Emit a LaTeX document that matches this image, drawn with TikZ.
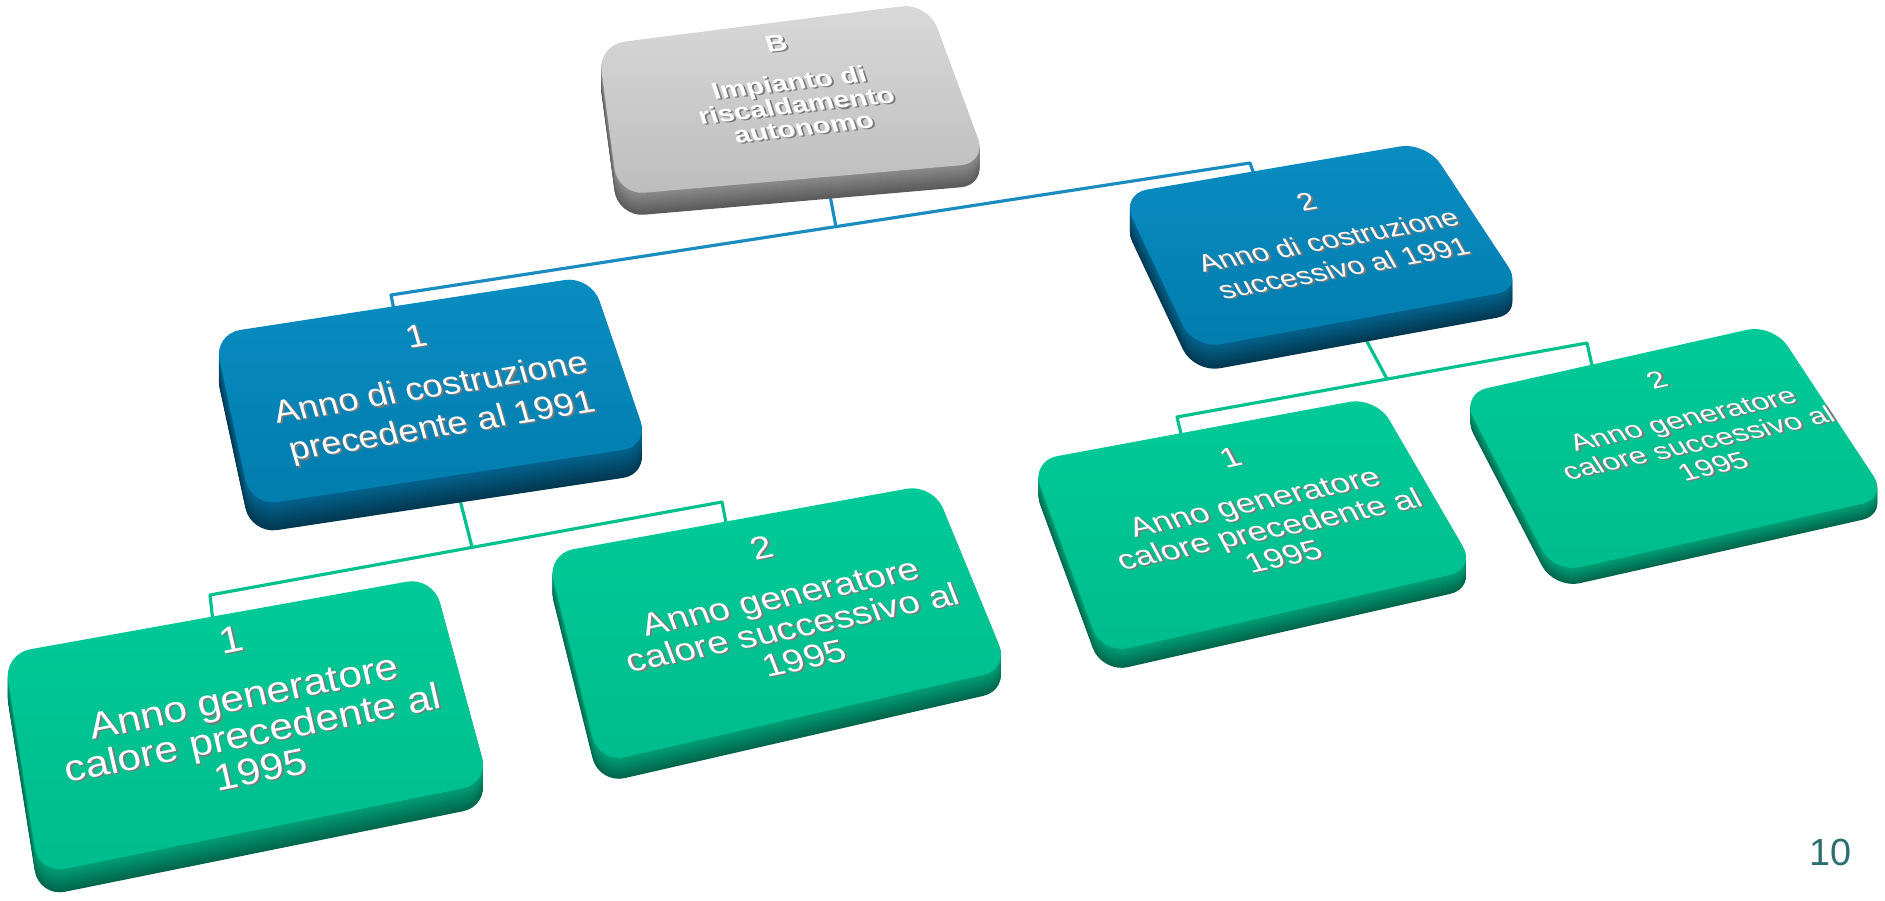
\documentclass[tikz,border=0pt]{standalone}
\usepackage{fontspec}
\setmainfont{Liberation Sans}

\definecolor{grigiosu}{HTML}{D9D9D9}
\definecolor{grigiogiu}{HTML}{BDBDBD}
\definecolor{grigiolatoA}{HTML}{8C8C8C}
\definecolor{grigiolatoB}{HTML}{5A5A5A}
\definecolor{blusu}{HTML}{0A8DC2}
\definecolor{blugiu}{HTML}{017CAD}
\definecolor{blulatoA}{HTML}{03648F}
\definecolor{blulatoB}{HTML}{023850}
\definecolor{verdesu}{HTML}{00CA98}
\definecolor{verdegiu}{HTML}{00BC8C}
\definecolor{verdelatoA}{HTML}{00A077}
\definecolor{verdelatoB}{HTML}{00664B}
\definecolor{lineablu}{HTML}{1A8CC0}
\definecolor{lineaverde}{HTML}{00C08E}
\definecolor{ombra}{HTML}{7A7A7A}
\definecolor{numero}{HTML}{2E6E71}

\begin{document}
\begin{tikzpicture}[x=0.02cm, y=0.02cm,
    lastra/.style={rounded corners=15pt},
    collblu/.style={draw=lineablu, line width=1.8pt, line join=round},
    collverde/.style={draw=lineaverde, line width=1.8pt, line join=round},
    testo/.style={align=center, inner sep=0pt, transform shape}]

    \useasboundingbox (0,0) rectangle (1885,900);

    % --- Punti di aggancio dei collegamenti ---
    \coordinate (r-out) at (828,715);
    \coordinate (r-bar) at (836,673);
    \coordinate (b1-bar) at (391,605);
    \coordinate (b1-in) at (395,585);
    \coordinate (b2-bar) at (1250,737);
    \coordinate (b2-in) at (1256,720);

    \coordinate (b1-out) at (460,400);
    \coordinate (b1-giu) at (472,353);
    \coordinate (g1-bar) at (210,305);
    \coordinate (g1-in) at (213,278);
    \coordinate (g2-bar) at (722,398);
    \coordinate (g2-in) at (727,372);

    \coordinate (b2-out) at (1365,562);
    \coordinate (b2-giu) at (1387,521);
    \coordinate (g3-bar) at (1177,483);
    \coordinate (g3-in) at (1182,462);
    \coordinate (g4-bar) at (1587,557);
    \coordinate (g4-in) at (1593,530);

    % --- Collegamenti (sotto le lastre) ---
    \draw[collblu] (r-out) -- (r-bar);
    \draw[collblu] (b1-in) -- (b1-bar) -- (b2-bar) -- (b2-in);
    \draw[collverde] (b1-out) -- (b1-giu);
    \draw[collverde] (g1-in) -- (g1-bar) -- (g2-bar) -- (g2-in);
    \draw[collverde] (b2-out) -- (b2-giu);
    \draw[collverde] (g3-in) -- (g3-bar) -- (g4-bar) -- (g4-in);

    % --- Lastra radice B (grigia) ---
    \def\faccia{(598,855) -- (928,897) -- (987,737) -- (618,705) -- cycle}
    \foreach \k in {22,...,1} {
        \pgfmathtruncatemacro\mix{100*(22-\k)/22}
        \fill[lastra, grigiolatoA!\mix!grigiolatoB, shift={(0,-\k)}] \faccia;
    }
    \shade[lastra, top color=grigiosu, bottom color=grigiogiu] \faccia;
    \begin{scope}[cm={0.9936,0.1132,-0.253,0.780,(790,814)}]
        % ombra grigia e testo bianco in rilievo
        \foreach \sx/\col in {1.6/ombra, 0/white}
            \node[testo, text=\col, font=\bfseries\fontsize{16.5}{16.5}\selectfont]
                (radice-\col) at (\sx,-\sx) {B\\[12pt]Impianto di\\riscaldamento\\autonomo};
    \end{scope}

    % --- Lastra 2: successivo al 1991 (blu) ---
    \def\faccia{(1121,706) -- (1426,758) -- (1523,611) -- (1194,551) -- cycle}
    \foreach \k in {24,...,1} {
        \pgfmathtruncatemacro\mix{100*(24-\k)/24}
        \fill[lastra, blulatoA!\mix!blulatoB, shift={(0,-\k)}] \faccia;
    }
    \shade[lastra, top color=blusu, bottom color=blugiu] \faccia;
    \begin{scope}[cm={0.9836,0.1805,-0.436,0.787,(1325,665)}]
        \foreach \sx/\col in {1.6/ombra, 0/white}
            \node[testo, text=\col, font=\fontsize{17}{20.2}\selectfont]
                (b2-\col) at (\sx,-\sx) {2\\[8pt]Anno di costruzione\\successivo al 1991};
    \end{scope}

    % --- Lastra 1: precedente al 1991 (blu) ---
    \def\faccia{(214,566) -- (591,624) -- (649,454) -- (251,394) -- cycle}
    \foreach \k in {28,...,1} {
        \pgfmathtruncatemacro\mix{100*(28-\k)/28}
        \fill[lastra, blulatoA!\mix!blulatoB, shift={(0,-\k)}] \faccia;
    }
    \shade[lastra, top color=blusu, bottom color=blugiu] \faccia;
    \begin{scope}[cm={0.9869,0.1616,-0.248,0.865,(430,516)}]
        \foreach \sx/\col in {1.6/ombra, 0/white}
            \node[testo, text=\col, font=\fontsize{20.5}{25.3}\selectfont]
                (b1-\col) at (\sx,-\sx) {1\\[8pt]Anno di costruzione\\precedente al 1991};
    \end{scope}

    % --- Lastra 2.2: generatore successivo al 1995 (verde) ---
    \def\faccia{(1461,506) -- (1773,576) -- (1888,402) -- (1554,327) -- cycle}
    \foreach \k in {16,...,1} {
        \pgfmathtruncatemacro\mix{100*(16-\k)/16}
        \fill[lastra, verdelatoA!\mix!verdelatoB, shift={(0,-\k)}] \faccia;
    }
    \shade[lastra, top color=verdesu, bottom color=verdegiu] \faccia;
    \begin{scope}[cm={0.9763,0.2164,-0.463,0.713,(1685,477)}]
        \foreach \sx/\col in {1.6/ombra, 0/white}
            \node[testo, text=\col, font=\fontsize{17.5}{18.7}\selectfont]
                (g4-\col) at (\sx,-\sx) {2\\[13pt]Anno generatore\\calore successivo al\\1995};
    \end{scope}

    % --- Lastra 2.1: generatore precedente al 1995 (verde) ---
    \def\faccia{(1031,439) -- (1376,503) -- (1476,331) -- (1102,246) -- cycle}
    \foreach \k in {19,...,1} {
        \pgfmathtruncatemacro\mix{100*(19-\k)/19}
        \fill[lastra, verdelatoA!\mix!verdelatoB, shift={(0,-\k)}] \faccia;
    }
    \shade[lastra, top color=verdesu, bottom color=verdegiu] \faccia;
    \begin{scope}[cm={0.9781,0.2079,-0.404,0.759,(1257,393)}]
        \foreach \sx/\col in {1.6/ombra, 0/white}
            \node[testo, text=\col, font=\fontsize{19.4}{20.5}\selectfont]
                (g3-\col) at (\sx,-\sx) {1\\[13pt]Anno generatore\\calore precedente al\\1995};
    \end{scope}

    % --- Lastra 1.2: generatore successivo al 1995 (verde) ---
    \def\faccia{(547,346) -- (933,416) -- (1009,231) -- (599,137) -- cycle}
    \foreach \k in {21,...,1} {
        \pgfmathtruncatemacro\mix{100*(21-\k)/21}
        \fill[lastra, verdelatoA!\mix!verdelatoB, shift={(0,-\k)}] \faccia;
    }
    \shade[lastra, top color=verdesu, bottom color=verdegiu] \faccia;
    \begin{scope}[cm={0.9789,0.2045,-0.308,0.803,(783,297)}]
        \foreach \sx/\col in {1.6/ombra, 0/white}
            \node[testo, text=\col, font=\fontsize{21.5}{21.8}\selectfont]
                (g2-\col) at (\sx,-\sx) {2\\[13pt]Anno generatore\\calore successivo al\\1995};
    \end{scope}

    % --- Lastra 1.1: generatore precedente al 1995 (verde) ---
    \def\faccia{(4,246) -- (433,323) -- (489,117) -- (39,26) -- cycle}
    \foreach \k in {23,...,1} {
        \pgfmathtruncatemacro\mix{100*(23-\k)/23}
        \fill[lastra, verdelatoA!\mix!verdelatoB, shift={(0,-\k)}] \faccia;
    }
    \shade[lastra, top color=verdesu, bottom color=verdegiu] \faccia;
    \begin{scope}[cm={0.9806,0.1959,-0.198,0.857,(246,195)}]
        \foreach \sx/\col in {1.6/ombra, 0/white}
            \node[testo, text=\col, font=\fontsize{24}{24.3}\selectfont]
                (g1-\col) at (\sx,-\sx) {1\\[13pt]Anno generatore\\calore precedente al\\1995};
    \end{scope}

    % --- Numero di pagina ---
    \node[text=numero, font=\fontsize{21.5}{26}\selectfont] (pagina) at (1830,48) {10};

\end{tikzpicture}
\end{document}
